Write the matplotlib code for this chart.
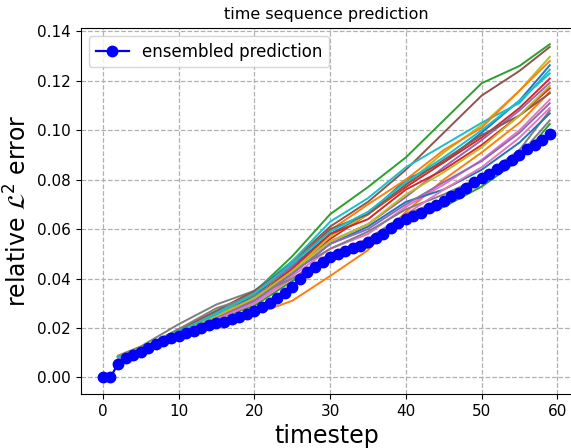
import matplotlib
matplotlib.use("Agg")
from matplotlib import pyplot as plt


# ensembled prediction error at each timestep 0..59
ens_steps = list(range(60))
ens_error = [
    0.0, 0.0, 0.0055, 0.0078, 0.0089, 0.0102, 0.0117, 0.0133, 0.0146, 0.0158,
    0.0168, 0.0178, 0.0189, 0.0200, 0.0210, 0.0218, 0.0226, 0.0236, 0.0246, 0.0257,
    0.0270, 0.0284, 0.0300, 0.0320, 0.0342, 0.0367, 0.0396, 0.0425, 0.0448, 0.0468,
    0.0488, 0.0500, 0.0512, 0.0523, 0.0533, 0.0546, 0.0564, 0.0581, 0.0606, 0.0624,
    0.0640, 0.0652, 0.0667, 0.0684, 0.0698, 0.0712, 0.0733, 0.0746, 0.0768, 0.0790,
    0.0806, 0.0823, 0.0842, 0.0860, 0.0880, 0.0898, 0.0922, 0.0942, 0.0960, 0.0985,
]

# individual model errors, read at a few timesteps
member_steps = [2, 5, 10, 15, 20, 25, 30, 35, 40, 45, 50, 55, 59]
members = [
    [0.0084, 0.0110, 0.0186, 0.0248, 0.033, 0.045, 0.058, 0.066, 0.080, 0.087, 0.099, 0.112, 0.1263],
    [0.0078, 0.0103, 0.0172, 0.0225, 0.0255, 0.031, 0.041, 0.0515, 0.0670, 0.080, 0.091, 0.103, 0.1155],
    [0.0085, 0.0115, 0.0195, 0.0265, 0.0345, 0.049, 0.066, 0.077, 0.089, 0.104, 0.119, 0.126, 0.1348],
    [0.0081, 0.0105, 0.0178, 0.0242, 0.031, 0.043, 0.056, 0.066, 0.077, 0.087, 0.097, 0.109, 0.1209],
    [0.0083, 0.0109, 0.0183, 0.0252, 0.034, 0.045, 0.055, 0.062, 0.073, 0.085, 0.096, 0.108, 0.1192],
    [0.0082, 0.0110, 0.0190, 0.0260, 0.034, 0.047, 0.061, 0.071, 0.084, 0.099, 0.114, 0.124, 0.1337],
    [0.0082, 0.0107, 0.0178, 0.0238, 0.030, 0.041, 0.052, 0.058, 0.069, 0.078, 0.088, 0.100, 0.1124],
    [0.0088, 0.0125, 0.0215, 0.0295, 0.035, 0.043, 0.052, 0.059, 0.068, 0.074, 0.081, 0.092, 0.108],
    [0.0083, 0.0108, 0.0185, 0.0250, 0.032, 0.043, 0.057, 0.066, 0.078, 0.091, 0.102, 0.116, 0.1297],
    [0.0080, 0.0112, 0.0192, 0.0262, 0.035, 0.047, 0.063, 0.0725, 0.085, 0.094, 0.103, 0.111, 0.1245],
    [0.0080, 0.0106, 0.0179, 0.0244, 0.031, 0.042, 0.054, 0.061, 0.071, 0.076, 0.084, 0.095, 0.1068],
    [0.0086, 0.0113, 0.0188, 0.0255, 0.034, 0.046, 0.0595, 0.070, 0.080, 0.092, 0.101, 0.116, 0.128],
    [0.0079, 0.0104, 0.0176, 0.0236, 0.029, 0.039, 0.0476, 0.0525, 0.063, 0.069, 0.0772, 0.088, 0.1025],
    [0.0080, 0.0106, 0.0180, 0.0245, 0.032, 0.044, 0.058, 0.064, 0.076, 0.084, 0.094, 0.106, 0.117],
    [0.0081, 0.0104, 0.0176, 0.0240, 0.031, 0.042, 0.054, 0.060, 0.070, 0.079, 0.0875, 0.099, 0.1109],
    [0.0082, 0.0112, 0.0192, 0.0270, 0.035, 0.046, 0.060, 0.066, 0.078, 0.088, 0.098, 0.106, 0.115],
    [0.0079, 0.0103, 0.0175, 0.0235, 0.030, 0.040, 0.050, 0.056, 0.066, 0.076, 0.085, 0.097, 0.109],
    [0.0083, 0.0115, 0.0195, 0.0280, 0.033, 0.040, 0.049, 0.056, 0.066, 0.072, 0.080, 0.090, 0.104],
    [0.0080, 0.0107, 0.0182, 0.0248, 0.032, 0.043, 0.055, 0.062, 0.074, 0.083, 0.093, 0.106, 0.118],
    [0.0081, 0.0110, 0.0187, 0.0255, 0.034, 0.046, 0.059, 0.067, 0.079, 0.089, 0.100, 0.112, 0.123],
]

fig = plt.figure(figsize=(5.71, 4.48), dpi=100)
# axes run past the right edge, like the cropped original
ax = fig.add_axes([0.141, 0.1205, 0.861, 0.818])

for i, errs in enumerate(members):
    ax.plot(member_steps, errs, color=f"C{i % 10}", lw=1.4)

ax.plot(ens_steps, ens_error, "o-", color="blue", ms=7.5, lw=1.6,
        label="ensembled prediction")

ax.grid(True, linestyle="--", color="#b0b0b0", lw=0.9)
ax.set_title("time sequence prediction", fontsize=11.5)
ax.set_xlabel("timestep", fontsize=17)
ax.set_ylabel(r"relative $\mathcal{L}^2$ error", fontsize=17)
ax.tick_params(axis="both", labelsize=11)
ax.legend(loc="upper left", fontsize=12)

fig.savefig("out.png", dpi=100)
